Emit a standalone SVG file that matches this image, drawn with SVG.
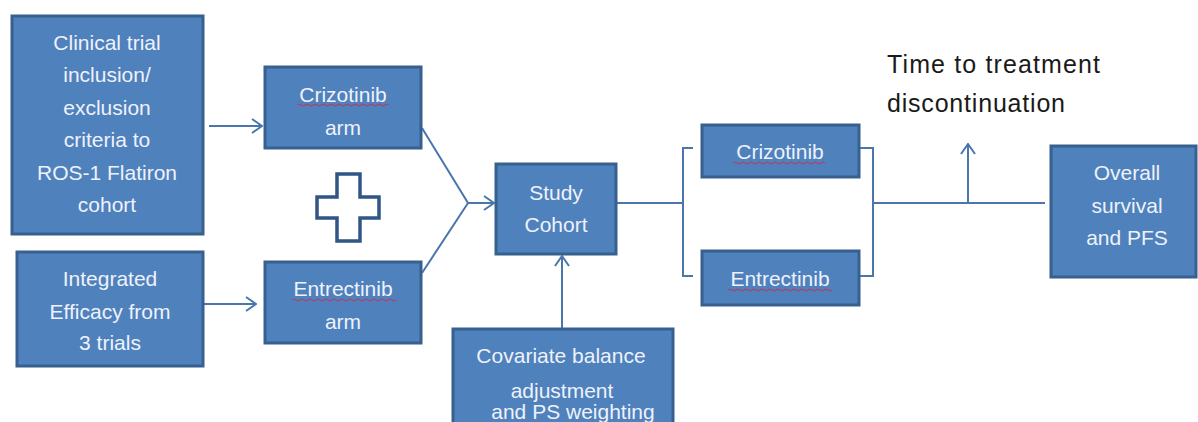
<svg xmlns="http://www.w3.org/2000/svg" width="1198" height="422" viewBox="0 0 1198 422">
<style>
.box{fill:#4f81bd;stroke:#37608f;stroke-width:3}
.bt{font-family:"Liberation Sans",Arial,sans-serif;font-size:21px;fill:#eef2fa;text-anchor:middle}
.con{fill:none;stroke:#4a76ab;stroke-width:2}
.sq{fill:none;stroke:#b0406a;stroke-width:1.2}
.lbl{font-family:"Liberation Sans",Arial,sans-serif;font-size:25px;fill:#1a1a1a}
</style>
<defs>
<marker id="ah" viewBox="0 0 12 16" refX="11" refY="8" markerWidth="12" markerHeight="16" markerUnits="userSpaceOnUse" orient="auto">
<path d="M1,1 L11,8 L1,15" fill="none" stroke="#4a76ab" stroke-width="2"/>
</marker>
</defs>
<rect width="1198" height="422" fill="#ffffff"/>
<g id="connectors">
<line class="con" x1="209" y1="126" x2="262" y2="126" marker-end="url(#ah)"/>
<line class="con" x1="203" y1="304" x2="256" y2="304" marker-end="url(#ah)"/>
<polyline class="con" points="422,128 468,203 422,273"/>
<line class="con" x1="468" y1="203" x2="494" y2="203" marker-end="url(#ah)"/>
<line class="con" x1="562" y1="329" x2="562" y2="256" marker-end="url(#ah)"/>
<line class="con" x1="616" y1="203" x2="683" y2="203"/>
<polyline class="con" points="693,148 683,148 683,276 693,276"/>
<polyline class="con" points="859,148 873,148 873,276 859,276"/>
<line class="con" x1="873" y1="203" x2="1045" y2="203"/>
<line class="con" x1="968" y1="203" x2="968" y2="144" marker-end="url(#ah)"/>
</g>
<g id="n-clinical">
<rect class="box" x="12" y="16" width="191" height="218"/>
<text class="bt" x="107" y="50">Clinical trial</text>
<text class="bt" x="107" y="82">inclusion/</text>
<text class="bt" x="107" y="115">exclusion</text>
<text class="bt" x="107" y="147">criteria to</text>
<text class="bt" x="107" y="180">ROS-1 Flatiron</text>
<text class="bt" x="107" y="212">cohort</text>
</g>
<g id="n-integrated">
<rect class="box" x="17" y="252" width="186" height="114"/>
<text class="bt" x="110" y="286">Integrated</text>
<text class="bt" x="110" y="319">Efficacy from</text>
<text class="bt" x="110" y="350">3 trials</text>
</g>
<g id="n-crizo-arm">
<rect class="box" x="265" y="67" width="156" height="81"/>
<text class="bt" x="343" y="102">Crizotinib</text>
<path class="sq" d="M297,105 q2,-1.5 4,0 t4,0 t4,0 t4,0 t4,0 t4,0 t4,0 t4,0 t4,0 t4,0 t4,0 t4,0 t4,0 t4,0 t4,0 t4,0 t4,0 t4,0 t4,0 t4,0 t4,0 t4,0 t4,0"/>
<text class="bt" x="343" y="135">arm</text>
</g>
<g id="n-plus">
<path d="M337,174 H360 V197 H379 V218 H360 V241 H337 V218 H317 V197 H337 Z" fill="#ffffff" stroke="#2f5685" stroke-width="3.5"/>
</g>
<g id="n-entrec-arm">
<rect class="box" x="265" y="262" width="156" height="81"/>
<text class="bt" x="343" y="296">Entrectinib</text>
<path class="sq" d="M292,300 q2,-1.5 4,0 t4,0 t4,0 t4,0 t4,0 t4,0 t4,0 t4,0 t4,0 t4,0 t4,0 t4,0 t4,0 t4,0 t4,0 t4,0 t4,0 t4,0 t4,0 t4,0 t4,0 t4,0 t4,0 t4,0 t4,0 t4,0"/>
<text class="bt" x="343" y="329">arm</text>
</g>
<g id="n-study">
<rect class="box" x="496" y="164" width="120" height="90"/>
<text class="bt" x="556" y="200">Study</text>
<text class="bt" x="556" y="232">Cohort</text>
</g>
<g id="n-covariate">
<rect class="box" x="453" y="329" width="220" height="100"/>
<text class="bt" x="561" y="363">Covariate balance</text>
<text class="bt" x="562" y="398">adjustment</text>
<text class="bt" x="573" y="419">and PS weighting</text>
</g>
<g id="n-crizo">
<rect class="box" x="702" y="125" width="157" height="52"/>
<text class="bt" x="780" y="159">Crizotinib</text>
<path class="sq" d="M733,163 q2,-1.5 4,0 t4,0 t4,0 t4,0 t4,0 t4,0 t4,0 t4,0 t4,0 t4,0 t4,0 t4,0 t4,0 t4,0 t4,0 t4,0 t4,0 t4,0 t4,0 t4,0 t4,0 t4,0 t4,0"/>
</g>
<g id="n-entrec">
<rect class="box" x="702" y="251" width="157" height="54"/>
<text class="bt" x="780" y="286">Entrectinib</text>
<path class="sq" d="M728,290 q2,-1.5 4,0 t4,0 t4,0 t4,0 t4,0 t4,0 t4,0 t4,0 t4,0 t4,0 t4,0 t4,0 t4,0 t4,0 t4,0 t4,0 t4,0 t4,0 t4,0 t4,0 t4,0 t4,0 t4,0 t4,0 t4,0 t4,0"/>
</g>
<g id="n-overall">
<rect class="box" x="1051" y="146" width="145" height="131"/>
<text class="bt" x="1127" y="180">Overall</text>
<text class="bt" x="1127" y="213">survival</text>
<text class="bt" x="1127" y="245">and PFS</text>
</g>
<g id="n-ttd">
<text class="lbl" x="887" y="73" textLength="213" lengthAdjust="spacing">Time to treatment</text>
<text class="lbl" x="887" y="112" textLength="178" lengthAdjust="spacing">discontinuation</text>
</g>
</svg>
